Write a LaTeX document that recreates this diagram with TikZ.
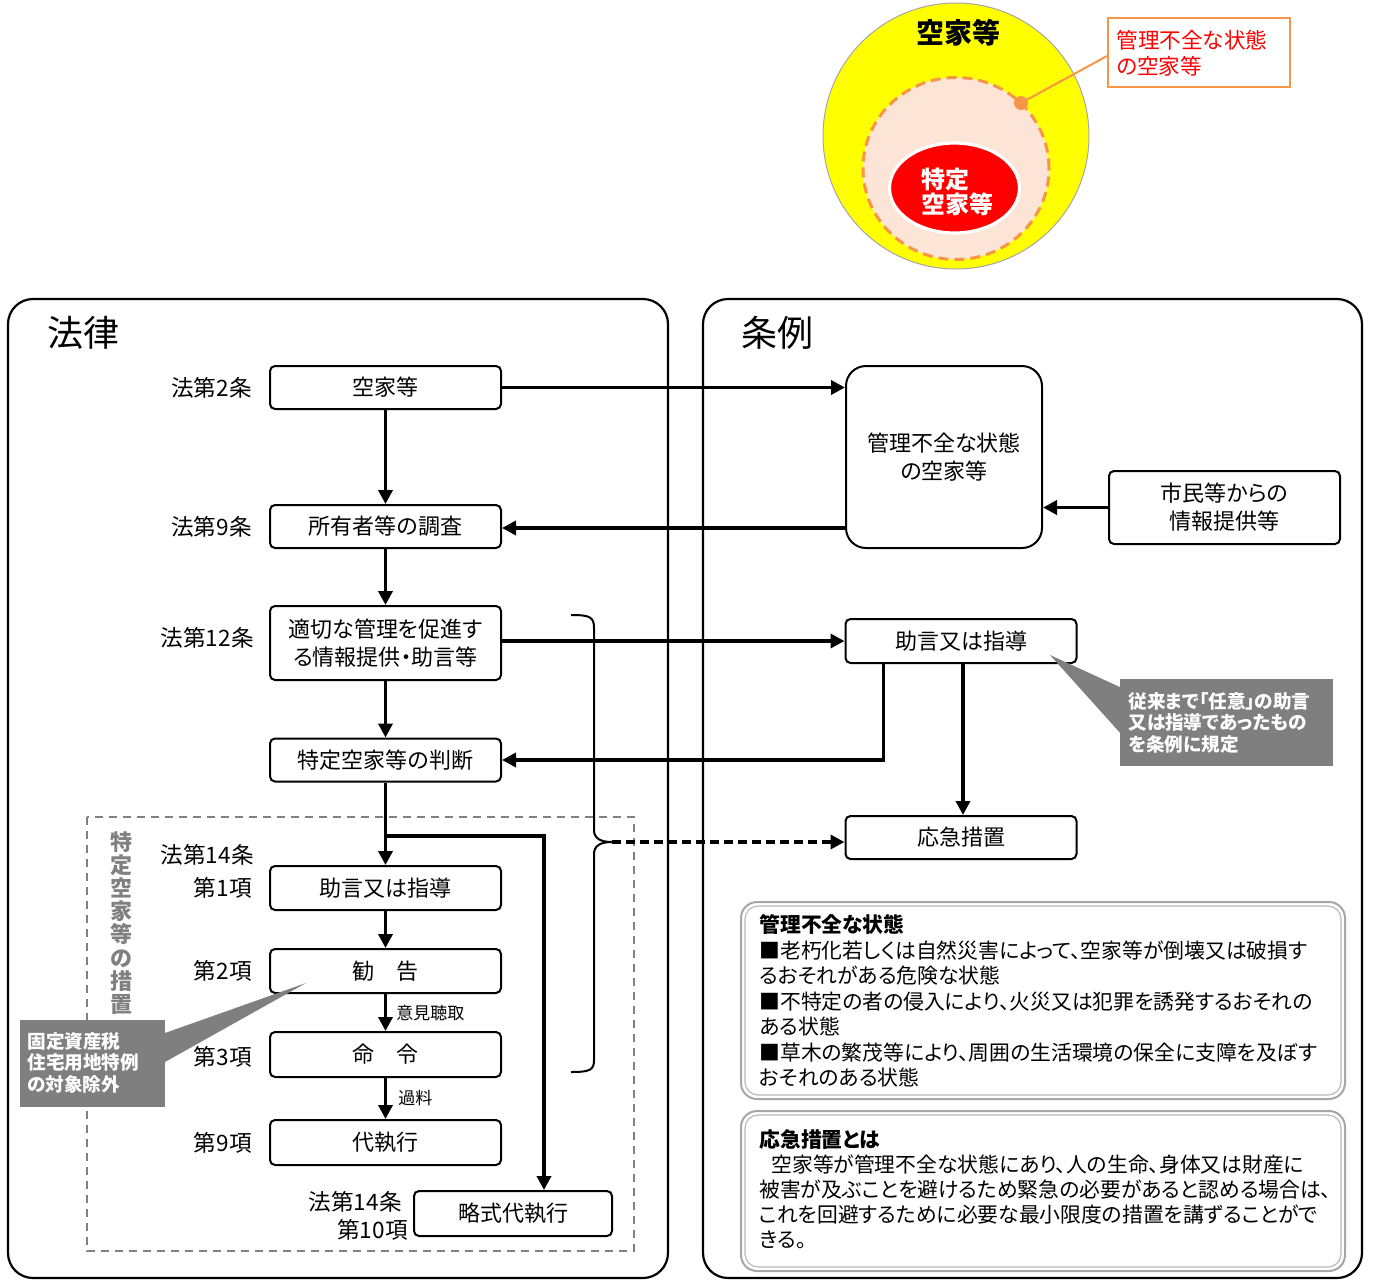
\documentclass[tikz,border=0pt]{standalone}
\usepackage{fontspec}
\setmainfont{Noto Sans CJK JP}[RawFeature=+palt]
\usetikzlibrary{arrows.meta,calc}
\definecolor{cyel}{HTML}{FFFF00}
\definecolor{cpeach}{HTML}{FCE4D6}
\definecolor{corg}{HTML}{F79646}
\definecolor{cred}{HTML}{FF0000}
\definecolor{cgray}{HTML}{7F7F7F}
\newcommand\fsz[2]{\fontsize{#1}{#2}\selectfont}
\tikzset{
  panel/.style={draw, line width=1.1pt, rounded corners=12.5pt},
  box/.style={draw, line width=1pt, rounded corners=2.5pt, minimum width=115.5pt, minimum height=21.5pt, inner sep=0pt, align=center, font=\fsz{11}{14}},
  lbl/.style={anchor=east, inner sep=0pt, font=\fsz{11.3}{13.5}},
  arr/.style={line width=1.8pt, -{Triangle[length=7pt,width=7pt]}},
  small/.style={anchor=west, inner sep=0pt, font=\fsz{8.5}{10}},
  callout/.style={fill=cgray, draw=none},
  ctext/.style={anchor=north west, inner sep=0pt, align=left, text=white, font=\bfseries\fsz{9.3}{10.7}},
  infotext/.style={anchor=north west, inner sep=0pt, align=left, font=\fsz{10.4}{12.5}},
}
\begin{document}
\begin{tikzpicture}[x=0.5pt,y=-0.5pt]
\useasboundingbox (0,0) rectangle (1373,1281);
% ---------- top circle diagram ----------
\fill[cyel, draw=gray!70, line width=0.5pt] (956,136) circle [radius=66.5pt];
\fill[cpeach] (956,168.5) ellipse [x radius=46.5pt, y radius=45.5pt];
\draw[corg, line width=1.5pt, dash pattern=on 5pt off 3pt] (956,168.5) ellipse [x radius=46.5pt, y radius=45.5pt];
\fill[cred, draw=white, line width=1.6pt] (954.5,188) ellipse [x radius=32.5pt, y radius=22.5pt];
\node[inner sep=0pt, font=\bfseries\fsz{14}{16}] (tA) at (958,33) {空家等};
\node[inner sep=0pt, anchor=west, align=left, text=white, font=\bfseries\fsz{12}{12.5}] (tB) at (921,192) {特定\\空家等};
\node[draw=corg, line width=1pt, minimum width=91pt, minimum height=34.5pt, inner sep=0pt] (cb) at (1199,52) {};
\node[inner sep=0pt, anchor=west, align=left, text=cred, font=\fsz{10.8}{12.8}] (cbt) at (1116,53) {管理不全な状態\\の空家等};
\coordinate (dot) at (1021,103);
\draw[corg, line width=1pt] (dot) -- (cb.west |- 0,56);
\fill[corg] (dot) circle [radius=3.5pt];
% ---------- panels ----------
\draw[panel] (8,299) rectangle (668,1278);
\draw[panel] (703,299) rectangle (1362,1278);
\node[inner sep=0pt, font=\fsz{18}{20}] (h1) at (83,333) {法律};
\node[inner sep=0pt, font=\fsz{18}{20}] (h2) at (777,333) {条例};
% dashed group
\draw[gray, dashed, line width=0.7pt, dash pattern=on 4pt off 3pt] (87,817) rectangle (634,1251);
\node[inner sep=0pt, align=center, text=gray, font=\bfseries\fsz{11}{11.6}] (vt) at (121,923) {特\\定\\空\\家\\等\\の\\措\\置};
% ---------- left boxes ----------
\node[box] (b1) at (385.5,387.5) {空家等};
\node[box] (b2) at (385.5,526.5) {所有者等の調査};
\node[box, minimum height=37pt] (b3) at (385.5,643) {適切な管理を促進す\\る情報提供・助言等};
\node[box] (b4) at (385.5,760) {特定空家等の判断};
\node[box, minimum height=22pt] (b5) at (385.5,888) {助言又は指導};
\node[box, minimum height=22pt] (b6) at (385.5,971) {勧\hspace{1em}告};
\node[box, minimum height=22.5pt] (b7) at (385.5,1054.5) {命\hspace{1em}令};
\node[box, minimum height=22.5pt] (b8) at (385.5,1142.5) {代執行};
\node[box, minimum width=99pt, minimum height=22.5pt] (b9) at (513,1213.5) {略式代執行};
% labels
\node[lbl] (l1) at (252,388) {法第2条};
\node[lbl] (l2) at (252,527) {法第9条};
\node[lbl] (l3) at (254,638) {法第12条};
\node[lbl] (l4) at (254,855) {法第14条};
\node[lbl] (l5) at (252,888) {第1項};
\node[lbl] (l6) at (252,971) {第2項};
\node[lbl] (l7) at (252,1057) {第3項};
\node[lbl] (l8) at (252,1143) {第9項};
\node[lbl] (l9) at (402,1202) {法第14条};
\node[lbl] (l10) at (408,1230) {第10項};
% ---------- right boxes ----------
\node[box, minimum width=98pt, minimum height=91pt, rounded corners=10pt, font=\fsz{11}{14}] (r1) at (944,457) {管理不全な状態\\の空家等};
\node[box, minimum height=36.5pt] (r2) at (1224.5,507.5) {市民等からの\\情報提供等};
\node[box, minimum height=22pt] (r3) at (961,641) {助言又は指導};
\node[box] (r4) at (961,837.5) {応急措置};
% ---------- arrows ----------
\draw[arr] (b1) -- (b2);
\draw[arr] (b2) -- (b3);
\draw[arr] (b3) -- (b4);
\draw[arr] (b4) -- (b5);
\draw[arr] (b5) -- (b6);
\draw[arr] (b6) -- (b7);
\draw[arr] (b7) -- (b8);
\node[small] (n1) at (396,1013) {意見聴取};
\node[small] (n2) at (398,1098) {過料};
\coordinate (br) at (385.5,836);
\draw[arr] (br) -| ($(b9.north)+(31,0)$);
\draw[arr] (b1.east) -- (r1.west |- b1.east);
\draw[arr] (r1.west |- 0,528) -- (b2.east |- 0,528);
\draw[arr] (r2.west) -- (r1.east |- r2.west);
\draw[arr] (b3.east |- 0,641) -- (r3.west);
\draw[arr] ($(r3.south west)+(39,0)$) |- (b4.east);
\draw[arr] ($(r3.south)+(2,0)$) -- ($(r4.north)+(2,0)$);
% brace
\coordinate (bt) at (612,842);
\draw[line width=1pt] (571,615) .. controls (590,615) and (594,617) .. (594,628) -- (594,830) .. controls (594,838) and (600,842) .. (bt) .. controls (600,842) and (594,846) .. (594,854) -- (594,1060) .. controls (594,1070) and (590,1072) .. (571,1072);
\draw[arr, dashed, dash pattern=on 4.5pt off 2.5pt] (bt) -- (r4.west |- bt);
% ---------- gray callouts ----------
\fill[callout] (1050,655) -- (1122,688) -- (1122,735) -- cycle;
\fill[callout] (1120,679) rectangle (1333,766);
\node[ctext] (c1) at (1128,692) {従来まで「任意」の助言\\又は指導であったもの\\を条例に規定};
\fill[callout] (306,983) -- (165,1033) -- (165,1062) -- cycle;
\fill[callout] (20,1020) rectangle (165,1107);
\node[ctext] (c2) at (27,1032) {固定資産税\\住宅用地特例\\の対象除外};
% ---------- info boxes ----------
\draw[gray!70, line width=1pt, rounded corners=8pt] (741,902) rectangle (1345,1099);
\draw[gray!55, line width=0.6pt, rounded corners=6.5pt] (745,906) rectangle (1341,1095);
\node[infotext] (i1) at (759,914) {\textbf{管理不全な状態}\\[0.5pt]■老朽化若しくは自然災害によって、空家等が倒壊又は破損す\\るおそれがある危険な状態\\[0.5pt]■不特定の者の侵入により、火災又は犯罪を誘発するおそれの\\ある状態\\[0.5pt]■草木の繁茂等により、周囲の生活環境の保全に支障を及ぼす\\おそれのある状態};
\draw[gray!70, line width=1pt, rounded corners=8pt] (741,1111) rectangle (1345,1271);
\draw[gray!55, line width=0.6pt, rounded corners=6.5pt] (745,1115) rectangle (1341,1267);
\node[infotext] (i2) at (759,1129) {\textbf{応急措置とは}\\\hspace{6pt}空家等が管理不全な状態にあり、人の生命、身体又は財産に\\被害が及ぶことを避けるため緊急の必要があると認める場合は、\\これを回避するために必要な最小限度の措置を講ずることがで\\きる。};
\end{tikzpicture}
\end{document}
